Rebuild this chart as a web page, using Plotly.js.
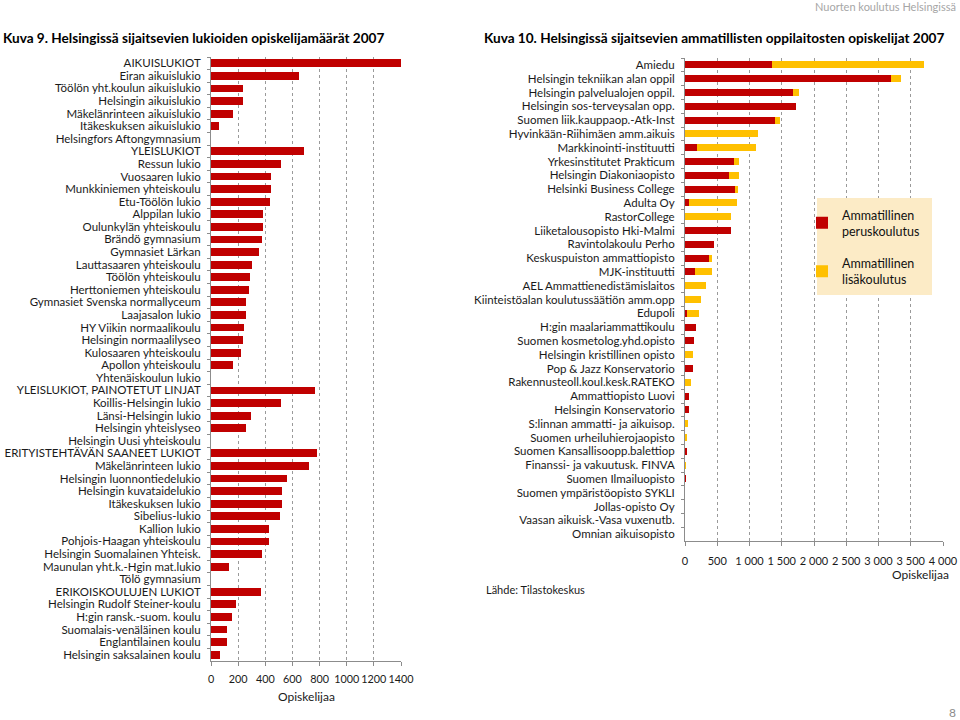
<!DOCTYPE html>
<html>
<head>
<meta charset="utf-8">
<script src="https://cdn.plot.ly/plotly-3.0.1.min.js"></script>
<style>
html,body{margin:0;padding:0;background:#fff;}
#chart{width:960px;height:720px;}
</style>
</head>
<body>
<div id="chart"></div>
<script>
// ---- Kuva 9: lukiot ----
const lukioCategories = [
  "AIKUISLUKIOT","Eiran aikuislukio","Töölön yht.koulun aikuislukio","Helsingin aikuislukio",
  "Mäkelänrinteen aikuislukio","Itäkeskuksen aikuislukio","Helsingfors Aftongymnasium",
  "YLEISLUKIOT","Ressun lukio","Vuosaaren lukio","Munkkiniemen yhteiskoulu","Etu-Töölön lukio",
  "Alppilan lukio","Oulunkylän yhteiskoulu","Brändö gymnasium","Gymnasiet Lärkan",
  "Lauttasaaren yhteiskoulu","Töölön yhteiskoulu","Herttoniemen yhteiskoulu",
  "Gymnasiet Svenska normallyceum","Laajasalon lukio","HY Viikin normaalikoulu",
  "Helsingin normaalilyseo","Kulosaaren yhteiskoulu","Apollon yhteiskoulu","Yhtenäiskoulun lukio",
  "YLEISLUKIOT, PAINOTETUT LINJAT","Koillis-Helsingin lukio","Länsi-Helsingin lukio",
  "Helsingin yhteislyseo","Helsingin Uusi yhteiskoulu","ERITYISTEHTÄVÄN SAANEET LUKIOT",
  "Mäkelänrinteen lukio","Helsingin luonnontiedelukio","Helsingin kuvataidelukio",
  "Itäkeskuksen lukio","Sibelius-lukio","Kallion lukio","Pohjois-Haagan yhteiskoulu",
  "Helsingin Suomalainen Yhteisk.","Maunulan yht.k.-Hgin mat.lukio","Tölö gymnasium",
  "ERIKOISKOULUJEN LUKIOT","Helsingin Rudolf Steiner-koulu","H:gin ransk.-suom. koulu",
  "Suomalais-venäläinen koulu","Englantilainen koulu","Helsingin saksalainen koulu"
];
const lukioValues = [
  1400, 651, 236, 233, 160, 59, 0,
  685, 513, 445, 445, 437, 383, 381, 378, 351, 302, 285, 278, 260, 255, 246, 236, 224, 162, 0,
  764, 513, 295, 260, 0,
  781, 720, 562, 526, 523, 508, 430, 427, 373, 133, 0,
  368, 182, 152, 118, 115, 66
];
const lukioTicks = [0,200,400,600,800,1000,1200,1400];

// ---- Kuva 10: ammatilliset oppilaitokset ----
const ammCategories = [
  "Amiedu","Helsingin tekniikan alan oppil","Helsingin palvelualojen oppil.",
  "Helsingin sos-terveysalan opp.","Suomen liik.kauppaop.-Atk-Inst","Hyvinkään-Riihimäen amm.aikuis",
  "Markkinointi-instituutti","Yrkesinstitutet Prakticum","Helsingin Diakoniaopisto",
  "Helsinki Business College","Adulta Oy","RastorCollege","Liiketalousopisto Hki-Malmi",
  "Ravintolakoulu Perho","Keskuspuiston ammattiopisto","MJK-instituutti",
  "AEL Ammattienedistämislaitos","Kiinteistöalan koulutussäätiön amm.opp","Edupoli",
  "H:gin maalariammattikoulu","Suomen kosmetolog.yhd.opisto","Helsingin kristillinen opisto",
  "Pop & Jazz Konservatorio","Rakennusteoll.koul.kesk.RATEKO","Ammattiopisto Luovi",
  "Helsingin Konservatorio","S:linnan ammatti- ja aikuisop.","Suomen urheiluhierojaopisto",
  "Suomen Kansallisoopp.balettiop","Finanssi- ja vakuutusk. FINVA","Suomen Ilmailuopisto",
  "Suomen ympäristöopisto SYKLI","Jollas-opisto Oy","Vaasan aikuisk.-Vasa vuxenutb.",
  "Omnian aikuisopisto"
];
const peruskoulutus = [
  1355, 3200, 1680, 1727, 1401, 0, 186, 760, 688, 776, 62, 0, 708, 445, 377, 160,
  0, 0, 31, 176, 140, 0, 124, 0, 67, 57, 0, 0, 26, 0, 21, 0, 0, 0, 0
];
const lisakoulutus = [
  2352, 145, 93, 0, 67, 1132, 920, 78, 144, 46, 739, 713, 0, 0, 47, 264,
  326, 253, 186, 0, 0, 124, 0, 98, 0, 0, 41, 36, 0, 21, 0, 0, 0, 0, 0
];
const ammTicks = [0,500,1000,1500,2000,2500,3000,3500,4000];
const seriesNames = ["Ammatillinen<br>peruskoulutus","Ammatillinen<br>lisäkoulutus"];

const RED = "#C00000", YEL = "#FFC000";
const FONT = "Lato, 'Open Sans', sans-serif";
const W = 960, H = 720;
const px = v => v / W, py = v => 1 - v / H;

const traces = [
  {type:"bar", orientation:"h", x:lukioValues, y:lukioCategories, xaxis:"x", yaxis:"y",
   marker:{color:RED}, width:0.62, showlegend:false, hoverinfo:"x+y"},
  {type:"bar", orientation:"h", x:peruskoulutus, y:ammCategories, xaxis:"x2", yaxis:"y2",
   marker:{color:RED}, width:0.52, name:seriesNames[0], legendgroup:"a"},
  {type:"bar", orientation:"h", x:lisakoulutus, y:ammCategories, xaxis:"x2", yaxis:"y2",
   marker:{color:YEL}, width:0.52, name:seriesNames[1], legendgroup:"b"}
];

const gridStyle = {showgrid:true, gridcolor:"#9a9a9a", griddash:"dot", gridwidth:1};
const catAxis = {type:"category", autorange:"reversed", tickmode:"linear", tick0:0, dtick:1,
  showline:true, linecolor:"#8c8c8c", ticks:"outside", ticklen:3, tickcolor:"#8c8c8c",
  tickson:"boundaries", showgrid:false, tickfont:{size:11.5}, ticklabelstandoff:7, fixedrange:true};
const layout = {
  width:W, height:H, margin:{l:0,r:0,t:0,b:0},
  paper_bgcolor:"#fff", plot_bgcolor:"rgba(0,0,0,0)",
  barmode:"stack", separators:", ",
  font:{family:FONT, size:12, color:"#1a1a1a"},
  xaxis:Object.assign({domain:[px(211),px(401)], anchor:"y", range:[0,1400],
    tickmode:"array", tickvals:lukioTicks, tickangle:0, ticks:"outside", ticklen:4, tickcolor:"#8c8c8c",
    showline:true, linecolor:"#8c8c8c", zeroline:false, tickfont:{size:10.8},
    ticklabelstandoff:4, fixedrange:true}, gridStyle),
  yaxis:Object.assign({domain:[py(661),py(57)], anchor:"x"}, catAxis),
  xaxis2:Object.assign({domain:[px(685),px(943)], anchor:"y2", range:[0,4000],
    tickmode:"array", tickvals:ammTicks, tickangle:0, separatethousands:true, tickformat:",d",
    ticks:"outside", ticklen:4, tickcolor:"#8c8c8c", showline:true, linecolor:"#8c8c8c", zeroline:false,
    tickfont:{size:11}, ticklabelstandoff:6, fixedrange:true}, gridStyle),
  yaxis2:Object.assign({domain:[py(541),py(58)], anchor:"x2"}, catAxis),
  showlegend:true,
  legend:{x:px(802), y:py(200), xanchor:"left", yanchor:"top", bgcolor:"rgba(0,0,0,0)",
    font:{size:12.5, color:"#111"}, tracegroupgap:13, itemwidth:30, traceorder:"grouped"},
  shapes:[
    {type:"rect", xref:"paper", yref:"paper", x0:px(817), x1:px(932), y0:py(295), y1:py(198),
     fillcolor:"#FCEBC6", line:{width:0}, layer:"above"}
  ],
  annotations:[
    {text:"Nuorten koulutus Helsingissä", xref:"paper", yref:"paper", x:px(958), y:py(7),
     xanchor:"right", yanchor:"middle", showarrow:false,
     font:{family:FONT, size:11, color:"#a6a6a6"}},
    {text:"<b>Kuva 9. Helsingissä sijaitsevien lukioiden opiskelijamäärät 2007</b>", xref:"paper", yref:"paper",
     x:px(1), y:py(38), xanchor:"left", yanchor:"middle", showarrow:false,
     font:{family:FONT, size:13.6, color:"#000"}},
    {text:"<b>Kuva 10. Helsingissä sijaitsevien ammatillisten oppilaitosten opiskelijat 2007</b>", xref:"paper", yref:"paper",
     x:px(482), y:py(38), xanchor:"left", yanchor:"middle", showarrow:false,
     font:{family:FONT, size:13.6, color:"#000"}},
    {text:"Opiskelijaa", xref:"paper", yref:"paper", x:px(306), y:py(696), xanchor:"center", yanchor:"middle",
     showarrow:false, font:{size:12}},
    {text:"Opiskelijaa", xref:"paper", yref:"paper", x:px(920), y:py(574), xanchor:"center", yanchor:"middle",
     showarrow:false, font:{size:12}},
    {text:"Lähde: Tilastokeskus", xref:"paper", yref:"paper", x:px(484), y:py(589), xanchor:"left", yanchor:"middle",
     showarrow:false, font:{size:11}},
    {text:"8", xref:"paper", yref:"paper", x:px(958), y:py(712), xanchor:"right", yanchor:"middle",
     showarrow:false, font:{size:12, color:"#8c8c8c"}}
  ]
};

Plotly.newPlot("chart", traces, layout, {displayModeBar:false, staticPlot:true});
</script>
</body>
</html>
